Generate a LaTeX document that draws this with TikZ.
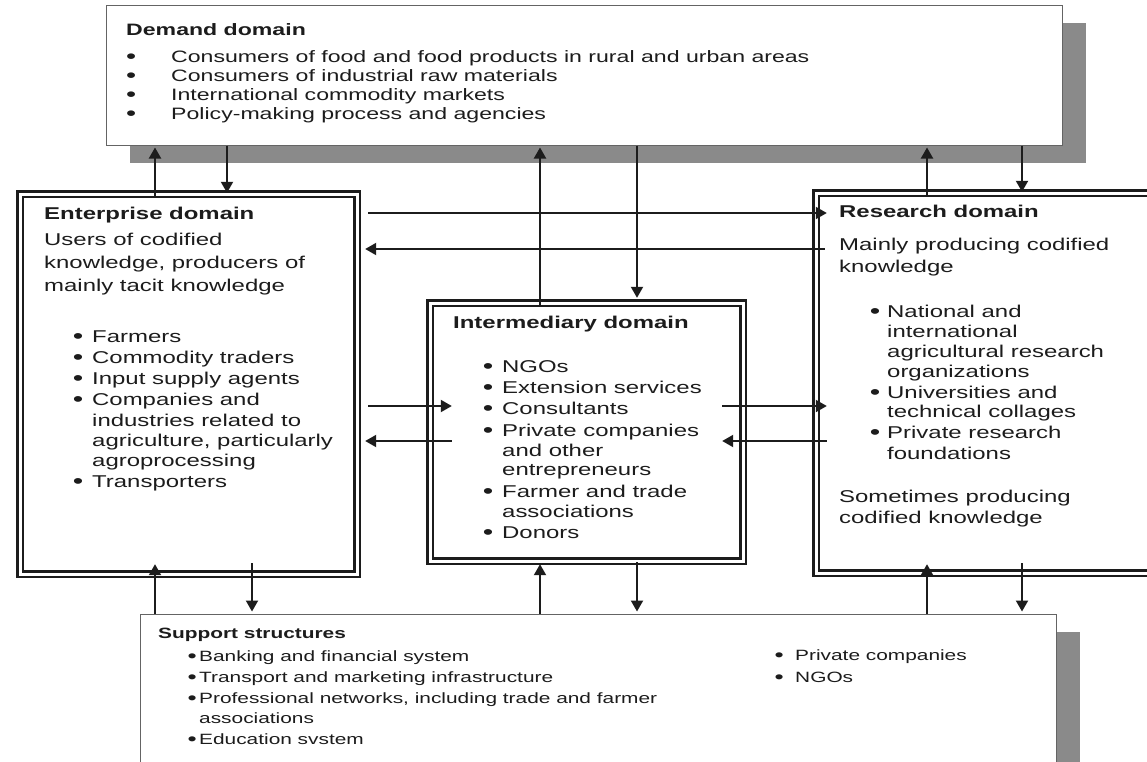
\documentclass[tikz,border=0pt]{standalone}
\usepackage{graphicx}
\usepackage{fontspec}
\setmainfont{Liberation Sans}[FakeStretch=1.4]
\usetikzlibrary{arrows.meta,shadows}
\definecolor{ink}{RGB}{28,28,28}
\definecolor{shd}{RGB}{138,138,138}
\definecolor{boxgray}{RGB}{100,100,100}
\newcommand\bul[1]{\llap{\raisebox{-0.08em}{\scalebox{1.25}{\textbullet}}\hspace{#1pt}}}
\newcommand\fD{\fontsize{16.5}{19}\selectfont}
\newcommand\fB{\fontsize{17.1}{20.5}\selectfont}
\newcommand\fS{\fontsize{14.9}{20}\selectfont}
\begin{document}
\begin{tikzpicture}[x=1pt,y=-1pt,
  dbox/.style={rectangle, draw=ink, line width=2.4pt, double=white, double distance=3pt, fill=white, inner sep=0pt},
  sbox/.style={rectangle, draw=boxgray, line width=1pt, fill=white, inner sep=0pt,
    drop shadow={shadow xshift=24pt, shadow yshift=-17.5pt, fill=shd, opacity=1}},
  t/.style={anchor=base west, inner sep=0pt, text=ink},
  arr/.style={draw=ink, line width=2pt, -{Triangle[length=11pt,width=12pt]}},
]
\useasboundingbox (0,0) rectangle (1147,761);
\clip (0,0) rectangle (1147,761);
\fill[white] (0,0) rectangle (1147,761);

% boxes
\node[sbox, minimum width=956pt, minimum height=140pt] (dem) at (584,75) {};
\node[sbox, minimum width=916pt, minimum height=186pt] (sup) at (598,707) {};
\node[dbox, minimum width=337pt, minimum height=380pt] (ent) at (188.5,384) {};
\node[dbox, minimum width=313pt, minimum height=258pt] (mid) at (586.5,432) {};
\node[dbox, minimum width=344pt, minimum height=380pt] (res) at (988,383) {};

% demand domain
\begin{scope}[every node/.append style={font=\fD}]
\node[t] (d0) at (126,35) {\textbf{Demand domain}};
\node[t] (d1) at (171,62) {\bul{35}Consumers of food and food products in rural and urban areas};
\node[t] (d2) at (171,81) {\bul{35}Consumers of industrial raw materials};
\node[t] (d3) at (171,100) {\bul{35}International commodity markets};
\node[t] (d4) at (171,119) {\bul{35}Policy-making process and agencies};
\end{scope}

% enterprise domain
\begin{scope}[every node/.append style={font=\fB}]
\node[t] (e0) at (44,219) {\textbf{Enterprise domain}};
\node[t] (e1) at (44,245) {Users of codified};
\node[t] (e2) at (44,268) {knowledge, producers of};
\node[t] (e3) at (44,291) {mainly tacit knowledge};
\node[t] (e4) at (92,342) {\bul{8.8}Farmers};
\node[t] (e5) at (92,363) {\bul{8.8}Commodity traders};
\node[t] (e6) at (92,384) {\bul{8.8}Input supply agents};
\node[t] (e7) at (92,405) {\bul{8.8}Companies and};
\node[t] (e8) at (92,426) {industries related to};
\node[t] (e9) at (92,446) {agriculture, particularly};
\node[t] (e10) at (92,466) {agroprocessing};
\node[t] (e11) at (92,487) {\bul{8.8}Transporters};

% intermediary domain
\node[t] (m0) at (453,328) {\textbf{Intermediary domain}};
\node[t] (m1) at (502,372) {\bul{8.8}NGOs};
\node[t] (m2) at (502,393) {\bul{8.8}Extension services};
\node[t] (m3) at (502,414) {\bul{8.8}Consultants};
\node[t] (m4) at (502,436) {\bul{8.8}Private companies};
\node[t] (m5) at (502,456) {and other};
\node[t] (m6) at (502,475) {entrepreneurs};
\node[t] (m7) at (502,497) {\bul{8.8}Farmer and trade};
\node[t] (m8) at (502,517) {associations};
\node[t] (m9) at (502,538) {\bul{8.8}Donors};

% research domain
\node[t] (r0) at (839,217) {\textbf{Research domain}};
\node[t] (r1) at (839,250) {Mainly producing codified};
\node[t] (r2) at (839,272) {knowledge};
\node[t] (r3) at (887,317) {\bul{6.8}National and};
\node[t] (r4) at (887,337) {international};
\node[t] (r5) at (887,357) {agricultural research};
\node[t] (r6) at (887,377) {organizations};
\node[t] (r7) at (887,398) {\bul{6.8}Universities and};
\node[t] (r8) at (887,417) {technical collages};
\node[t] (r9) at (887,438) {\bul{6.8}Private research};
\node[t] (r10) at (887,459) {foundations};
\node[t] (r11) at (839,502) {Sometimes producing};
\node[t] (r12) at (839,523) {codified knowledge};
\end{scope}

% support structures
\begin{scope}[every node/.append style={font=\fS}]
\node[t] (s0) at (158,638) {\textbf{Support structures}};
\node[t] (s1) at (199,661) {\bul{2.4}Banking and financial system};
\node[t] (s2) at (199,682) {\bul{2.4}Transport and marketing infrastructure};
\node[t] (s3) at (199,703) {\bul{2.4}Professional networks, including trade and farmer};
\node[t] (s4) at (199,723) {associations};
\node[t] (s5) at (199,744) {\bul{2.4}Education svstem};
\node[t] (s6) at (795,660) {\bul{11.4}Private companies};
\node[t] (s7) at (795,682) {\bul{11.4}NGOs};
\end{scope}

% vertical connectors with the demand domain
\draw[arr, shorten <=-4pt, shorten >=2pt] (ent.north -| 155,0) -- (dem.south -| 155,0);
\draw[arr] (dem.south -| 227,0) -- (ent.north -| 227,0);
\draw[arr, shorten <=-4pt, shorten >=2pt] (mid.north -| 540,0) -- (dem.south -| 540,0);
\draw[arr, shorten >=4pt] (dem.south -| 637,0) -- (mid.north -| 637,0);
\draw[arr, shorten <=-4pt, shorten >=2pt] (res.north -| 927,0) -- (dem.south -| 927,0);
\draw[arr] (dem.south -| 1022,0) -- (res.north -| 1022,0);

% horizontal connectors
\draw[arr, shorten <=10pt, shorten >=-12pt] (ent.east |- 0,213) -- (res.west |- 0,213);
\draw[arr, shorten <=-10pt, shorten >=7pt] (res.west |- 0,249) -- (ent.east |- 0,249);
\draw[arr, shorten <=10pt, shorten >=-23pt] (ent.east |- 0,406) -- (mid.west |- 0,406);
\draw[arr, shorten <=-23pt, shorten >=7pt] (mid.west |- 0,441) -- (ent.east |- 0,441);
\draw[arr, shorten <=-22pt, shorten >=-12pt] (mid.east |- 0,406) -- (res.west |- 0,406);
\draw[arr, shorten <=-12pt, shorten >=-22pt] (res.west |- 0,441) -- (mid.east |- 0,441);

% vertical connectors with the support structures
\draw[arr, shorten >=-11pt] (sup.north -| 155,0) -- (ent.south -| 155,0);
\draw[arr, shorten <=-12pt, shorten >=2pt] (ent.south -| 252,0) -- (sup.north -| 252,0);
\draw[arr, shorten >=2pt] (sup.north -| 540,0) -- (mid.south -| 540,0);
\draw[arr, shorten >=2pt] (mid.south -| 637,0) -- (sup.north -| 637,0);
\draw[arr, shorten >=-10pt] (sup.north -| 927,0) -- (res.south -| 927,0);
\draw[arr, shorten <=-11pt, shorten >=2pt] (res.south -| 1022,0) -- (sup.north -| 1022,0);
\end{tikzpicture}
\end{document}
